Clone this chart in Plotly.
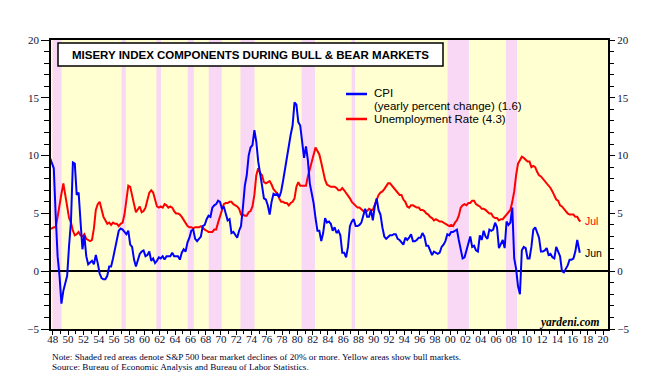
import plotly.graph_objects as go

# ---------------- data (quarterly readings, decimal years) ----------------
cpi_values = [
    9.8, 9.3, 8.9, 4.8,      # 1948
    1.3, -0.4, -2.8, -1.7,   # 1949
    -0.9, -0.4, 2.2, 4.3,    # 1950
    9.4, 9.3, 6.6, 6.8,      # 1951
    4.3, 1.9, 3.1, 1.3,      # 1952
    0.6, 0.8, 0.9, 0.6,      # 1953
    1.4, 0.7, -0.2, -0.6,    # 1954
    -0.7, -0.7, -0.4, 0.4,   # 1955
    0.4, 1.1, 1.9, 2.8,      # 1956
    3.5, 3.7, 3.6, 3.4,      # 1957
    3.2, 3.5, 2.3, 2.1,      # 1958
    1.0, 0.4, 0.9, 1.5,      # 1959
    1.7, 1.8, 1.3, 1.4,      # 1960
    1.7, 0.9, 1.1, 0.7,      # 1961
    0.9, 1.2, 1.1, 1.3,      # 1962
    1.0, 1.3, 1.3, 1.3,      # 1963
    1.6, 1.3, 1.3, 1.3,      # 1964
    1.0, 1.6, 1.9, 1.7,      # 1965
    2.5, 2.9, 3.5, 3.6,      # 1966
    2.8, 2.6, 2.8, 3.0,      # 1967
    3.9, 4.0, 4.5, 4.8,      # 1968
    4.7, 5.5, 5.7, 5.8,      # 1969
    6.1, 6.0, 5.4, 5.6,      # 1970
    5.0, 4.4, 4.5, 3.3,      # 1971
    3.4, 3.2, 2.9, 3.5,      # 1972
    3.9, 5.5, 7.4, 8.3,      # 1973
    10.0, 10.7, 10.9, 12.2,  # 1974
    11.2, 9.5, 8.6, 7.4,     # 1975
    6.3, 6.2, 5.7, 4.9,      # 1976
    6.0, 6.7, 6.6, 6.7,      # 1977
    6.4, 6.9, 7.8, 8.9,      # 1978
    9.9, 10.8, 11.8, 12.6,   # 1979
    14.6, 14.4, 12.9, 12.6,  # 1980
    11.4, 9.8, 10.8, 9.6,    # 1981
    7.6, 6.7, 5.9, 4.6,      # 1982
    3.5, 3.5, 2.6, 3.3,      # 1983
    4.6, 4.2, 4.3, 4.1,      # 1984
    3.5, 3.8, 3.3, 3.5,      # 1985
    3.1, 1.6, 1.6, 1.2,      # 1986
    2.1, 3.9, 4.3, 4.5,      # 1987
    3.9, 3.9, 4.0, 4.2,      # 1988
    4.7, 5.4, 4.7, 4.7,      # 1989
    5.3, 4.4, 5.6, 6.3,      # 1990
    5.3, 4.9, 3.8, 3.0,      # 1991
    2.8, 3.0, 3.1, 3.1,      # 1992
    3.2, 3.2, 2.8, 2.7,      # 1993
    2.5, 2.3, 2.9, 2.7,      # 1994
    2.9, 3.2, 2.6, 2.6,      # 1995
    2.7, 2.9, 2.9, 3.3,      # 1996
    3.0, 2.2, 2.2, 1.8,      # 1997
    1.4, 1.7, 1.6, 1.5,      # 1998
    1.6, 2.1, 2.3, 2.6,      # 1999
    3.2, 3.1, 3.4, 3.4,      # 2000
    3.5, 3.6, 2.7, 1.9,      # 2001
    1.1, 1.2, 1.8, 2.2,      # 2002
    3.0, 2.1, 2.2, 1.8,      # 2003
    1.7, 3.1, 2.7, 3.5,      # 2004
    3.0, 2.8, 3.6, 3.5,      # 2005
    3.6, 4.2, 3.8, 2.0,      # 2006
    2.4, 2.7, 2.0, 4.3,      # 2007
    4.0, 4.2, 5.5, 1.1,      # 2008
    0.2, -1.3, -2.0, 1.8,    # 2009
    2.1, 2.0, 1.1, 1.1,      # 2010
    2.1, 3.6, 3.8, 3.4,      # 2011
    2.9, 1.7, 1.7, 1.8,      # 2012
    2.0, 1.4, 1.5, 1.2,      # 2013
    1.1, 2.1, 1.7, 1.3,      # 2014
    0.0, -0.1, 0.2, 0.5,     # 2015
    1.0, 1.0, 1.1, 1.7,      # 2016
    2.7, 1.6,                # 2017 (last = Jun)
]
cpi_last_date = 2017.46

unemp_values = [
    3.7, 3.7, 3.8, 3.8,      # 1948
    4.7, 5.9, 6.7, 7.6,      # 1949
    6.4, 5.6, 4.6, 4.2,      # 1950
    3.5, 3.1, 3.2, 3.4,      # 1951
    3.1, 3.0, 3.2, 2.8,      # 1952
    2.7, 2.6, 2.7, 3.7,      # 1953
    5.3, 5.8, 6.0, 5.3,      # 1954
    4.7, 4.4, 4.1, 4.2,      # 1955
    4.0, 4.2, 4.1, 4.1,      # 1956
    3.9, 4.1, 4.2, 4.9,      # 1957
    6.3, 7.4, 7.3, 6.4,      # 1958
    5.8, 5.1, 5.3, 5.6,      # 1959
    5.1, 5.2, 5.5, 6.3,      # 1960
    6.8, 7.0, 6.8, 6.2,      # 1961
    5.6, 5.5, 5.6, 5.5,      # 1962
    5.8, 5.7, 5.5, 5.6,      # 1963
    5.5, 5.2, 5.0, 5.0,      # 1964
    4.9, 4.7, 4.4, 4.1,      # 1965
    3.9, 3.8, 3.8, 3.7,      # 1966
    3.8, 3.8, 3.8, 3.9,      # 1967
    3.7, 3.6, 3.5, 3.4,      # 1968
    3.4, 3.4, 3.6, 3.6,      # 1969
    4.2, 4.8, 5.2, 5.8,      # 1970
    5.9, 5.9, 6.0, 6.0,      # 1971
    5.8, 5.7, 5.6, 5.4,      # 1972
    4.9, 4.9, 4.8, 4.8,      # 1973
    5.1, 5.2, 5.6, 6.6,      # 1974
    8.3, 8.9, 8.5, 8.3,      # 1975
    7.7, 7.6, 7.7, 7.8,      # 1976
    7.5, 7.1, 6.9, 6.7,      # 1977
    6.3, 6.0, 6.0, 5.9,      # 1978
    5.9, 5.7, 5.9, 6.0,      # 1979
    6.3, 7.3, 7.7, 7.4,      # 1980
    7.4, 7.4, 7.4, 8.2,      # 1981
    8.8, 9.4, 9.9, 10.7,     # 1982
    10.4, 10.1, 9.4, 8.5,    # 1983
    7.9, 7.5, 7.4, 7.3,      # 1984
    7.3, 7.3, 7.2, 7.0,      # 1985
    7.0, 7.2, 7.0, 6.8,      # 1986
    6.6, 6.3, 6.0, 5.8,      # 1987
    5.7, 5.5, 5.5, 5.3,      # 1988
    5.2, 5.2, 5.2, 5.4,      # 1989
    5.3, 5.3, 5.7, 6.1,      # 1990
    6.6, 6.8, 6.9, 7.1,      # 1991
    7.4, 7.6, 7.6, 7.4,      # 1992
    7.2, 7.1, 6.8, 6.6,      # 1993
    6.6, 6.2, 6.0, 5.6,      # 1994
    5.5, 5.7, 5.7, 5.6,      # 1995
    5.5, 5.5, 5.3, 5.3,      # 1996
    5.2, 5.0, 4.9, 4.7,      # 1997
    4.6, 4.4, 4.5, 4.4,      # 1998
    4.3, 4.3, 4.2, 4.1,      # 1999
    4.0, 3.9, 4.0, 3.9,      # 2000
    4.2, 4.4, 4.8, 5.5,      # 2001
    5.7, 5.8, 5.7, 5.9,      # 2002
    5.9, 6.1, 6.1, 5.8,      # 2003
    5.7, 5.6, 5.4, 5.4,      # 2004
    5.3, 5.1, 5.0, 5.0,      # 2005
    4.7, 4.6, 4.6, 4.4,      # 2006
    4.5, 4.5, 4.7, 4.8,      # 2007
    5.0, 5.3, 6.0, 6.9,      # 2008
    8.3, 9.3, 9.6, 9.9,      # 2009
    9.8, 9.6, 9.5, 9.5,      # 2010
    9.0, 9.1, 9.0, 8.6,      # 2011
    8.3, 8.2, 8.0, 7.8,      # 2012
    7.7, 7.5, 7.2, 6.9,      # 2013
    6.6, 6.2, 6.1, 5.7,      # 2014
    5.6, 5.4, 5.1, 5.0,      # 2015
    4.9, 4.9, 4.9, 4.7,      # 2016
    4.7, 4.4, 4.3,           # 2017 (last = Jul)
]
unemp_last_date = 2017.54

# S&P 500 bear markets (decimal years)
bear_start = [1948.45, 1957.50, 1962.05, 1966.15, 1968.90, 1973.05, 1981.05, 1987.60, 2000.15, 2007.80]
bear_end   = [1949.65, 1958.05, 1962.65, 1966.95, 1970.60, 1974.90, 1982.80, 1988.05, 2002.95, 2009.25]

tick_years = list(range(1948, 2021, 2))
tick_labels = [f"{y % 100:02d}" for y in tick_years]
y_ticks = [-5, 0, 5, 10, 15, 20]


def quarter_dates(n, last):
    d = [1948.125 + 0.25 * i for i in range(n - 1)]
    d.append(last)
    return d


cpi_dates = quarter_dates(len(cpi_values), cpi_last_date)
unemp_dates = quarter_dates(len(unemp_values), unemp_last_date)

# ---------------- figure ----------------
# The page body has an 8px default margin; compensate so the plot sits
# at the same screen position as the reference.
OFF = 8
W, H = 653 - OFF, 380 - OFF
PL, PR, PT, PB = 51, 608, 40, 329          # plot area in screen pixels
L, R, T, B = PL - OFF, (W + OFF) - PR, PT - OFF, (H + OFF) - PB
pw, ph = PR - PL, PB - PT


def px(xp):
    return (xp - PL) / pw


def py(yp):
    return (PB - yp) / ph


fig = go.Figure()
fig.add_trace(go.Scatter(x=unemp_dates, y=unemp_values, mode="lines",
                         line=dict(color="#FF0000", width=2), showlegend=False))
fig.add_trace(go.Scatter(x=cpi_dates, y=cpi_values, mode="lines",
                         line=dict(color="#0000FF", width=2), showlegend=False))
fig.add_trace(go.Scatter(x=[cpi_dates[-1]], y=[cpi_values[-1]], yaxis="y2",
                         mode="markers", marker=dict(opacity=0), showlegend=False,
                         hoverinfo="skip"))

shapes = []
for s, e in zip(bear_start, bear_end):
    shapes.append(dict(type="rect", xref="x", yref="paper", x0=s, x1=e, y0=0, y1=1,
                       fillcolor="#F9D8F6", line=dict(width=0), layer="below"))
# title box
shapes.append(dict(type="rect", xref="paper", yref="paper",
                   x0=px(58), x1=px(443), y0=py(66), y1=py(43),
                   fillcolor="white", line=dict(color="black", width=1.5), layer="above"))
# legend sample lines
shapes.append(dict(type="line", xref="paper", yref="paper", x0=px(346), x1=px(367),
                   y0=py(94), y1=py(94), line=dict(color="#0000FF", width=2.5)))
shapes.append(dict(type="line", xref="paper", yref="paper", x0=px(346), x1=px(367),
                   y0=py(119), y1=py(119), line=dict(color="#FF0000", width=2.5)))

sans = "Liberation Sans, Arial, sans-serif"
serif = "Liberation Serif, Times New Roman, serif"
LEG = 11.5

annotations = [
    dict(text="<b>MISERY INDEX COMPONENTS DURING BULL &amp; BEAR MARKETS</b>",
         xref="paper", yref="paper", x=px(250.5), y=py(54.5), showarrow=False,
         xanchor="center", yanchor="middle", font=dict(family=sans, size=11.5, color="black")),
    dict(text="CPI", xref="paper", yref="paper", x=px(372), y=py(93), showarrow=False,
         xanchor="left", yanchor="middle", font=dict(family=sans, size=LEG, color="black")),
    dict(text="(yearly percent change) (1.6)", xref="paper", yref="paper", x=px(372), y=py(106),
         showarrow=False, xanchor="left", yanchor="middle",
         font=dict(family=sans, size=LEG, color="black")),
    dict(text="Unemployment Rate (4.3)", xref="paper", yref="paper", x=px(372), y=py(119),
         showarrow=False, xanchor="left", yanchor="middle",
         font=dict(family=sans, size=LEG, color="black")),
    dict(text="Jul", xref="x", yref="y", x=unemp_dates[-1], y=unemp_values[-1], xshift=3,
         showarrow=False, xanchor="left", yanchor="middle",
         font=dict(family=sans, size=10.5, color="#FF0000")),
    dict(text="Jun", xref="x", yref="y", x=cpi_dates[-1], y=cpi_values[-1], xshift=3,
         showarrow=False, xanchor="left", yanchor="middle",
         font=dict(family=sans, size=10.5, color="black")),
    dict(text="<b><i>yardeni.com</i></b>", xref="paper", yref="paper", x=px(602), y=py(322),
         showarrow=False, xanchor="right", yanchor="middle",
         font=dict(family=serif, size=11.5, color="black")),
    dict(text="Note: Shaded red areas denote S&amp;P 500 bear market declines of 20% or more. "
              "Yellow areas show bull markets.",
         xref="paper", yref="paper", x=px(50), y=py(357), showarrow=False,
         xanchor="left", yanchor="middle", font=dict(family=serif, size=9.2, color="#000033")),
    dict(text="Source: Bureau of Economic Analysis and Bureau of Labor Statistics.",
         xref="paper", yref="paper", x=px(50), y=py(367), showarrow=False,
         xanchor="left", yanchor="middle", font=dict(family=serif, size=9.2, color="#000033")),
]

axis_font = dict(family=serif, size=11, color="#111133")

fig.update_layout(
    width=W, height=H,
    margin=dict(l=L, r=R, t=T, b=B, pad=0, autoexpand=False),
    paper_bgcolor="white",
    plot_bgcolor="#FFFFD2",
    shapes=shapes,
    annotations=annotations,
    showlegend=False,
    xaxis=dict(
        range=[1948.26, 2021.15],
        tickmode="array", tickvals=[y + 0.5 for y in tick_years], ticktext=tick_labels,
        ticks="outside", ticklen=4, tickwidth=1, tickcolor="black",
        ticklabelstandoff=-5,
        minor=dict(tickmode="linear", tick0=1948.5, dtick=1, ticks="outside",
                   ticklen=3, tickcolor="black"),
        showgrid=False, zeroline=False,
        showline=True, linecolor="black", linewidth=1.5, mirror=True,
        tickfont=axis_font,
    ),
    yaxis=dict(
        range=[-5, 20], tickmode="array", tickvals=y_ticks,
        ticks="outside", ticklen=8, tickwidth=1, tickcolor="black",
        minor=dict(tickmode="linear", tick0=0, dtick=1, ticks="outside",
                   ticklen=5, tickcolor="black"),
        showgrid=False,
        zeroline=True, zerolinecolor="black", zerolinewidth=1.5,
        showline=True, linecolor="black", linewidth=1.5, mirror=True,
        tickfont=axis_font,
    ),
    yaxis2=dict(
        range=[-5, 20], overlaying="y", side="right", tickmode="array", tickvals=y_ticks,
        ticks="outside", ticklen=6, tickwidth=1, tickcolor="black",
        minor=dict(tickmode="linear", tick0=0, dtick=1, ticks="outside",
                   ticklen=5, tickcolor="black"),
        showgrid=False, zeroline=False, showline=False,
        tickfont=axis_font,
    ),
)

fig.write_html("out.html")
